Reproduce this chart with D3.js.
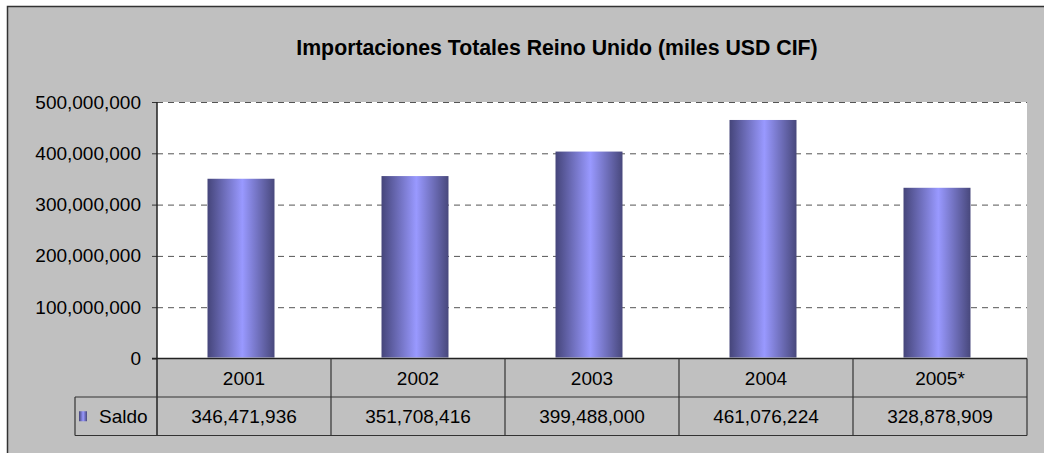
<!DOCTYPE html>
<html>
<head>
<meta charset="utf-8">
<script src="https://cdn.jsdelivr.net/npm/d3@7"></script>
<style>
  html, body { margin: 0; padding: 0; background: #fff; }
  svg { display: block; font-family: "Liberation Sans", Arial, sans-serif; }
</style>
</head>
<body>
<div id="output"></div>
<script>
// chart data
var title = 'Importaciones Totales Reino Unido (miles USD CIF)';
var seriesName = 'Saldo';
var years = ['2001', '2002', '2003', '2004', '2005*'];
var saldo = [346471936, 351708416, 399488000, 461076224, 328878909];
var yTicks = [0, 100000000, 200000000, 300000000, 400000000, 500000000];

function renderGraph(){
  var width = 1044;
  var height = 453;
  var plot = {left: 157, right: 1027, top: 102, bottom: 358.5};
  var rowH = 38.5;
  var legendLeft = 75;
  var depth = 2; // small 3D offset of the bars

  var svg = d3.select('#output')
  .append('svg')
  .attr('width', width)
  .attr('height', height);

  var defs = svg.append('defs');
  var grad = defs.append('linearGradient')
  .attr('id', 'barGrad')
  .attr('x1', '0%').attr('x2', '100%').attr('y1', '0%').attr('y2', '0%');
  grad.append('stop').attr('offset', '0%').attr('stop-color', '#45457a');
  grad.append('stop').attr('offset', '52%').attr('stop-color', '#9999ff');
  grad.append('stop').attr('offset', '100%').attr('stop-color', '#48487c');

  // chart frame (cropped at right and bottom)
  svg.append('rect')
  .attr('x', 7.5).attr('y', 6.5)
  .attr('width', width + 20).attr('height', height + 20)
  .attr('fill', '#c0c0c0')
  .attr('stroke', '#333')
  .attr('stroke-width', 1.5);

  // plot area
  svg.append('rect')
  .attr('x', plot.left).attr('y', plot.top)
  .attr('width', plot.right - plot.left).attr('height', plot.bottom - plot.top)
  .attr('fill', '#fff');

  svg.append('text')
  .attr('x', 557).attr('y', 55)
  .attr('text-anchor', 'middle')
  .attr('font-size', '21.3px')
  .attr('font-weight', 'bold')
  .text(title);

  var xScale = d3.scaleBand()
  .domain(years)
  .range([plot.left, plot.right])
  .padding(0);

  var yScale = d3.scaleLinear()
  .domain([0, 500000000])
  .range([plot.bottom, plot.top]);

  // dashed grid
  var grid = svg.append('g')
  .attr('transform', `translate(${plot.left}, 0)`)
  .call(d3.axisLeft(yScale).tickValues(yTicks.slice(1)).tickSize(-(plot.right - plot.left)).tickFormat(''));
  grid.select('.domain').remove();
  grid.selectAll('line')
  .attr('stroke', '#555')
  .attr('stroke-dasharray', '6,5');

  // bars
  var bw = xScale.bandwidth() * 0.385;
  svg.append('g')
  .selectAll('rect')
  .data(saldo)
  .join('rect')
  .attr('x', (d, i) => xScale(years[i]) + (xScale.bandwidth() - bw) / 2 - depth * 1.5)
  .attr('y', (d) => yScale(d) - depth)
  .attr('width', bw)
  .attr('height', (d) => plot.bottom - yScale(d) + depth - 1)
  .attr('fill', 'url(#barGrad)');

  // y axis
  var yAxis = svg.append('g')
  .attr('transform', `translate(${plot.left}, 0)`)
  .call(d3.axisLeft(yScale).tickValues(yTicks).tickSize(5).tickPadding(11).tickFormat(d3.format(',')));
  yAxis.select('.domain').remove();
  yAxis.selectAll('line').attr('stroke', '#333');
  yAxis.selectAll('text')
  .attr('font-size', '19px')
  .attr('font-family', '"Liberation Sans", Arial, sans-serif')
  .attr('fill', '#000');

  var lines = svg.append('g').attr('stroke', '#222').attr('stroke-width', 1.5).attr('fill', 'none');
  // vertical axis down through the table
  lines.append('line')
  .attr('x1', plot.left).attr('x2', plot.left)
  .attr('y1', plot.top).attr('y2', plot.bottom + rowH * 2);
  // horizontal axis line
  lines.append('line')
  .attr('x1', plot.left - 5).attr('x2', plot.right)
  .attr('y1', plot.bottom).attr('y2', plot.bottom);

  // data table
  var tbl = svg.append('g').attr('stroke', '#333').attr('stroke-width', 1.2).attr('fill', 'none');
  tbl.append('line')
  .attr('x1', legendLeft).attr('x2', plot.right)
  .attr('y1', plot.bottom + rowH).attr('y2', plot.bottom + rowH);
  tbl.append('line')
  .attr('x1', legendLeft).attr('x2', plot.right)
  .attr('y1', plot.bottom + rowH * 2).attr('y2', plot.bottom + rowH * 2);
  tbl.append('line')
  .attr('x1', legendLeft).attr('x2', legendLeft)
  .attr('y1', plot.bottom + rowH).attr('y2', plot.bottom + rowH * 2);
  tbl.selectAll('.col')
  .data(years)
  .join('line')
  .attr('class', 'col')
  .attr('x1', (d) => xScale(d) + xScale.bandwidth())
  .attr('x2', (d) => xScale(d) + xScale.bandwidth())
  .attr('y1', plot.bottom).attr('y2', plot.bottom + rowH * 2);

  svg.append('g')
  .selectAll('text')
  .data(years)
  .join('text')
  .attr('x', (d) => xScale(d) + xScale.bandwidth() / 2)
  .attr('y', plot.bottom + rowH / 2 + 7)
  .attr('text-anchor', 'middle')
  .attr('font-size', '19px')
  .text((d) => d);

  svg.append('g')
  .selectAll('text')
  .data(saldo)
  .join('text')
  .attr('x', (d, i) => xScale(years[i]) + xScale.bandwidth() / 2)
  .attr('y', plot.bottom + rowH * 1.5 + 7)
  .attr('text-anchor', 'middle')
  .attr('font-size', '19px')
  .text((d) => d3.format(',')(d));

  // legend key
  svg.append('rect')
  .attr('x', 79).attr('y', plot.bottom + rowH * 1.5 - 5)
  .attr('width', 8).attr('height', 10)
  .attr('fill', 'url(#barGrad)');
  svg.append('text')
  .attr('x', 99).attr('y', plot.bottom + rowH * 1.5 + 7)
  .attr('font-size', '19px')
  .text(seriesName);
}

document.addEventListener('DOMContentLoaded', renderGraph);
</script>
</body>
</html>
